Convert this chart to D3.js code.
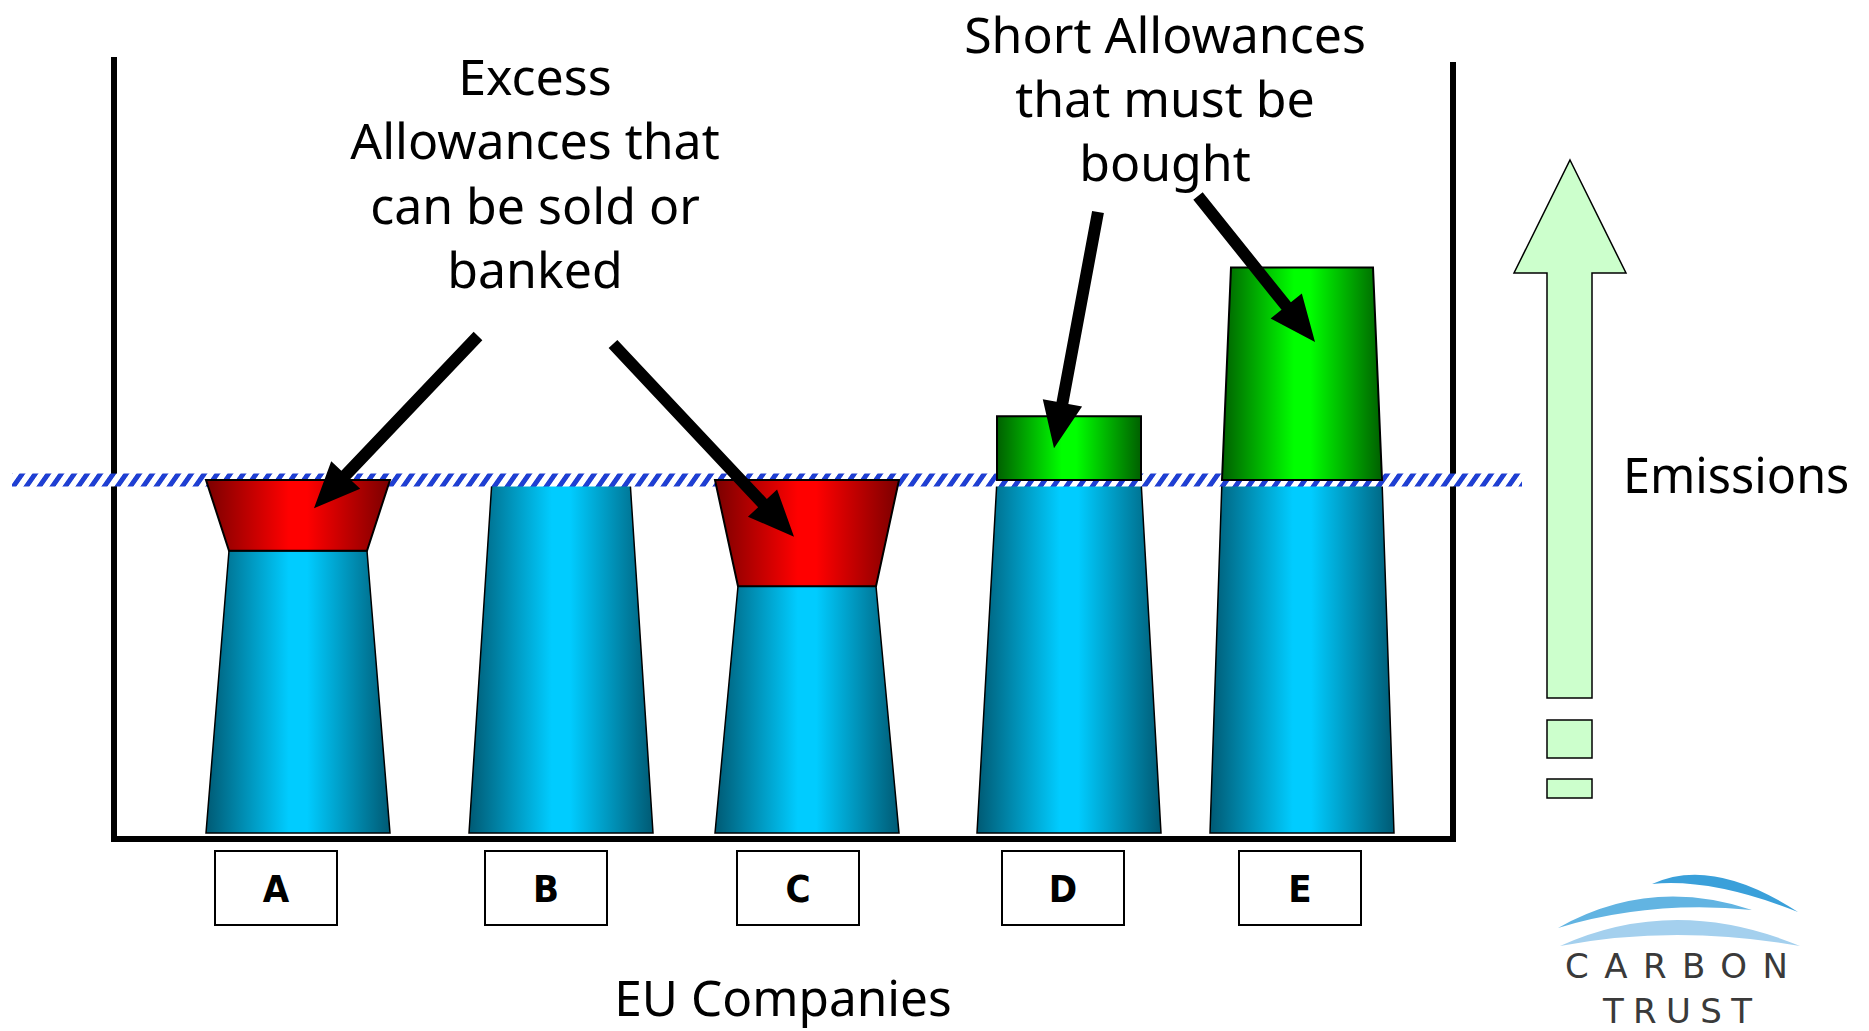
<!DOCTYPE html>
<html>
<head>
<meta charset="utf-8">
<script src="https://cdn.jsdelivr.net/npm/d3@7"></script>
<style>
  body { margin: 0; background: #fff; }
  svg { display: block; }
</style>
</head>
<body>
<svg id="chart" width="1869" height="1031"></svg>
<script>
// data
let companies = ['A', 'B', 'C', 'D', 'E'];
let emissions = [80, 100, 70, 118, 160];
let allowance = 100;
let excessNote = ['Excess', 'Allowances that', 'can be sold or', 'banked'];
let shortNote = ['Short Allowances', 'that must be', 'bought'];
let axisTitle = 'EU Companies';
let arrowTitle = 'Emissions';

// look of the stacks (half widths / nudges in px)
let baseHalf = 92;
let neckHalf = [69, 69, 69, 72, 80];
let topTaper = [0, 0, 0, 0, 9];
let barNudge = [0, 12, 7, 18, 0];
let labNudge = [0, 14, 10, 19, 0];

let svg = d3.select('#chart');

let x = d3.scalePoint().domain(companies).range([298, 1302]);
let xLab = d3.scalePoint().domain(companies).range([276, 1300]);
let y = d3.scaleLinear().domain([0, allowance]).range([834, 480]);

let bx = (c, i) => x(c) + barNudge[i];
let lx = (c, i) => xLab(c) + labNudge[i];

let defs = svg.append('defs');

function grad(id, edge, mid) {
    let g = defs.append('linearGradient').attr('id', id).attr('x1', '0%').attr('x2', '100%').attr('y1', 0).attr('y2', 0);
    g.append('stop').attr('offset', '0%').attr('stop-color', edge);
    g.append('stop').attr('offset', '45%').attr('stop-color', mid);
    g.append('stop').attr('offset', '55%').attr('stop-color', mid);
    g.append('stop').attr('offset', '100%').attr('stop-color', edge);
}
grad('gBlue', '#005a74', '#00ccff');
grad('gRed', '#7a0000', '#ff0000');
grad('gGreen', '#006000', '#00ff00');

let pat = defs.append('pattern').attr('id', 'hatch')
    .attr('patternUnits', 'userSpaceOnUse')
    .attr('width', 13).attr('height', 13)
    .attr('patternTransform', 'skewX(-35)');
pat.append('rect').attr('width', 13).attr('height', 13).attr('fill', '#fff');
pat.append('rect').attr('width', 6).attr('height', 13).attr('fill', '#1f3fd2');

function trap(cx, yb, hb, yt, ht) {
    return 'M' + (cx - hb) + ',' + yb + 'L' + (cx + hb) + ',' + yb +
        'L' + (cx + ht) + ',' + yt + 'L' + (cx - ht) + ',' + yt + 'Z';
}

// axes frame
let frame = svg.append('g').attr('stroke', '#000').attr('stroke-width', 6);
frame.append('line').attr('x1', 114).attr('x2', 114).attr('y1', 57).attr('y2', 842);
frame.append('line').attr('x1', 1453).attr('x2', 1453).attr('y1', 62).attr('y2', 842);
frame.append('line').attr('x1', 111).attr('x2', 1456).attr('y1', 839).attr('y2', 839);

// blue emission stacks
let stacks = svg.append('g');
companies.forEach((c, i) => {
    let top = Math.min(emissions[i], allowance);
    stacks.append('path')
        .attr('d', trap(bx(c, i), y(0) - 1, baseHalf, y(top), neckHalf[i]))
        .attr('fill', 'url(#gBlue)')
        .attr('stroke', '#000').attr('stroke-width', 1.5);
});

// allowance cap band
svg.append('rect')
    .attr('x', 12).attr('width', 1510)
    .attr('y', y(allowance) - 6.5).attr('height', 13)
    .attr('fill', 'url(#hatch)');

// excess and short parts
let tops = svg.append('g');
companies.forEach((c, i) => {
    if (emissions[i] < allowance) {
        tops.append('path')
            .attr('d', trap(bx(c, i), y(emissions[i]), neckHalf[i], y(allowance), baseHalf))
            .attr('fill', 'url(#gRed)')
            .attr('stroke', '#000').attr('stroke-width', 2);
    } else if (emissions[i] > allowance) {
        tops.append('path')
            .attr('d', trap(bx(c, i), y(allowance), neckHalf[i], y(emissions[i]), neckHalf[i] - topTaper[i]))
            .attr('fill', 'url(#gGreen)')
            .attr('stroke', '#000').attr('stroke-width', 2);
    }
});

// company labels
let labs = svg.append('g').selectAll('g').data(companies).enter().append('g')
    .attr('transform', (d, i) => 'translate(' + lx(d, i) + ',888)');
labs.append('rect').attr('x', -61).attr('y', -37).attr('width', 122).attr('height', 74)
    .attr('fill', '#fff').attr('stroke', '#000').attr('stroke-width', 2);
labs.append('text').text(d => d)
    .attr('text-anchor', 'middle').attr('dy', '0.36em')
    .attr('font-family', 'DejaVu Sans Condensed, DejaVu Sans, sans-serif')
    .attr('font-weight', 'bold').attr('font-size', 38);

let font = 'Noto Sans, Open Sans, sans-serif';

function note(lines, cx, cy) {
    let t = svg.append('text').attr('text-anchor', 'middle')
        .attr('font-family', font).attr('font-size', 50).attr('fill', '#000');
    lines.forEach((l, i) => {
        t.append('tspan').attr('x', cx).attr('y', cy + i * 64.3).attr('dy', '0.35em').text(l);
    });
}
note(excessNote, 535, 77.5);
note(shortNote, 1165, 35);

svg.append('text').text(axisTitle)
    .attr('x', 783).attr('y', 999).attr('dy', '0.35em').attr('text-anchor', 'middle')
    .attr('font-family', font).attr('font-size', 49.5);

svg.append('text').text(arrowTitle)
    .attr('x', 1623).attr('y', 476).attr('dy', '0.35em')
    .attr('font-family', font).attr('font-size', 48.5);

// pointer arrows
function arrow(x0, y0, x1, y1) {
    let dx = x1 - x0, dy = y1 - y0, len = Math.sqrt(dx * dx + dy * dy);
    let ux = dx / len, uy = dy / len, px = -uy, py = ux;
    let hl = 46, hw = 20, sw = 6;
    let hx = x1 - ux * hl, hy = y1 - uy * hl;
    let pts = [
        [x0 + px * sw, y0 + py * sw],
        [hx + px * sw, hy + py * sw],
        [hx + px * hw, hy + py * hw],
        [x1, y1],
        [hx - px * hw, hy - py * hw],
        [hx - px * sw, hy - py * sw],
        [x0 - px * sw, y0 - py * sw]
    ];
    svg.append('path').attr('d', 'M' + pts.join('L') + 'Z').attr('fill', '#000');
}
arrow(478, 336, bx('A', 0) + 16, y(92));
arrow(613, 344, bx('C', 2) - 13, y(84));
arrow(1098, 212, bx('D', 3) - 15, y(109));
arrow(1198, 196, bx('E', 4) + 13, y(139));

// emissions arrow
let ea = svg.append('g').attr('fill', '#ccffcc').attr('stroke', '#000').attr('stroke-width', 1.5);
ea.append('path').attr('d', 'M1570,160L1626,273L1592,273L1592,698L1547,698L1547,273L1514,273Z');
ea.append('rect').attr('x', 1547).attr('y', 720).attr('width', 45).attr('height', 38);
ea.append('rect').attr('x', 1547).attr('y', 779).attr('width', 45).attr('height', 19);

// carbon trust logo
let logo = svg.append('g');
logo.append('path').attr('d', 'M1652,884Q1712,856 1798,912Q1712,878 1652,884Z').attr('fill', '#3aa0da');
logo.append('path').attr('d', 'M1558,928Q1650,876 1752,910Q1650,900 1558,928Z').attr('fill', '#62b4e2');
logo.append('path').attr('d', 'M1560,946Q1675,894 1800,946Q1675,924 1560,946Z').attr('fill', '#a4d0ee');
logo.append('text').text('CARBON').attr('x', 1565).attr('y', 966).attr('dy', '0.35em')
    .attr('font-family', 'DejaVu Sans, sans-serif').attr('font-size', 34).attr('fill', '#3a3a3a')
    .attr('textLength', 223).attr('lengthAdjust', 'spacing');
logo.append('text').text('TRUST').attr('x', 1603).attr('y', 1011).attr('dy', '0.35em')
    .attr('font-family', 'DejaVu Sans, sans-serif').attr('font-size', 34).attr('fill', '#3a3a3a')
    .attr('textLength', 149).attr('lengthAdjust', 'spacing');
</script>
</body>
</html>
